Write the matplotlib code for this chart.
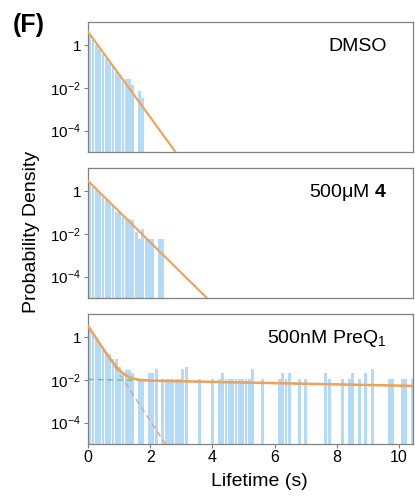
import numpy as np
import matplotlib
matplotlib.use("Agg")
import matplotlib.pyplot as plt

plt.rcParams['font.family'] = ['Liberation Sans', 'DejaVu Sans']
plt.rcParams['mathtext.fontset'] = 'custom'
plt.rcParams['mathtext.rm'] = 'Liberation Sans'
plt.rcParams['mathtext.bf'] = 'Liberation Sans:bold'
plt.rcParams['mathtext.it'] = 'Liberation Sans:italic'

# histogram bin width (s)
BIN = 0.107

# DMSO: probability density per bin, starting at t = 0
dmso_h = [2.6, 1.7, 1.0, 0.65, 0.4, 0.25, 0.15, 0.09, 0.055, 0.035,
          0.02, 0.025, 0.025, 0.013, 0, 0.0069, 0.0034]

# 500 uM compound 4
cpd4_h = [2.2, 1.6, 1.1, 0.8, 0.55, 0.4, 0.28, 0.2, 0.11, 0.1,
          0.06, 0.05, 0.05, 0.045, 0.012, 0.0058, 0.017, 0.0058, 0.0058, 0.0058,
          0, 0.0058, 0.0058]

# 500 nM PreQ1: fast part as density, long tail as event counts
preq_fast = [2.5, 1.6, 0.9, 0.45, 0.25, 0.19, 0.17, 0.09, 0.09, 0.04,
             0.02, 0.03, 0.03, 0.02]
preq_unit = 0.0105
preq_tail = [0, 1, 1, 0, 2, 2, 3, 0, 1, 1,
             1, 1, 1, 1, 3, 4, 0, 0, 0, 1,
             0, 0, 0, 1, 0, 1, 2, 1, 1, 1,
             1, 1, 1, 1, 1, 3, 0, 0, 1, 0,
             0, 0, 0, 1, 2, 1, 2, 0, 0, 1,
             0, 1, 0, 0, 0, 0, 0, 2, 1, 0,
             0, 0, 1, 0, 1, 2, 0, 1, 0, 2,
             0, 3, 0, 0, 0, 0, 1, 1, 0, 0,
             1, 1, 0, 1]
preq_h = preq_fast + [c * preq_unit for c in preq_tail]

# fitted exponentials: amplitude, rate (1/s)
dmso_fit = (4.2, 4.6)
cpd4_fit = (3.0, 3.3)
preq_fast_fit = (3.3, 5.1)
preq_slow_fit = (0.0105, 0.067)

labels = ["DMSO", "500\u03bcM $\\mathbf{4}$", "500nM PreQ$_1$"]

BAR_C = '#b3dbf7'
FIT_C = '#f2a056'
GRAY = '#808080'

fig = plt.figure(figsize=(4.15, 5.0), dpi=100)
left, width, height = 0.212, 0.783, 0.26
bottoms = [0.696, 0.404, 0.112]
axes = [fig.add_axes([left, b, width, height]) for b in bottoms]

t = np.linspace(0, 10.5, 600)
all_h = [dmso_h, cpd4_h, preq_h]

for i, ax in enumerate(axes):
    h = np.array(all_h[i])
    centers = (np.arange(len(h)) + 0.5) * BIN
    mask = h > 0
    ax.bar(centers[mask], h[mask], width=BIN * 0.85, color=BAR_C,
           edgecolor='none', zorder=1)
    if i == 0:
        a, k = dmso_fit
        ax.plot(t, a * np.exp(-k * t), color=FIT_C, lw=1.5, zorder=3)
    elif i == 1:
        a, k = cpd4_fit
        ax.plot(t, a * np.exp(-k * t), color=FIT_C, lw=1.5, zorder=3)
    else:
        fast = preq_fast_fit[0] * np.exp(-preq_fast_fit[1] * t)
        slow = preq_slow_fit[0] * np.exp(-preq_slow_fit[1] * t)
        ax.plot(t, fast, color='#dca08e', lw=1.0, ls=(0, (4, 3)), zorder=2)
        ax.plot(t, slow, color='#6cbf78', lw=1.0, ls=(0, (4, 3)), zorder=2)
        ax.plot(t, fast + slow, color=FIT_C, lw=1.8, zorder=3)

    ax.set_yscale('log')
    ax.set_ylim(1e-5, 12)
    ax.set_xlim(0, 10.45)
    ax.yaxis.set_minor_locator(matplotlib.ticker.NullLocator())
    ax.set_yticks([1, 1e-2, 1e-4])
    ax.set_yticklabels(['1', '10$^{-2}$', '10$^{-4}$'])
    for s in ax.spines.values():
        s.set_color(GRAY)
        s.set_linewidth(0.9)
    ax.tick_params(axis='y', length=3, width=0.8, color=GRAY,
                   labelsize=11, pad=2)
    if i < 2:
        ax.set_xticks([])
    else:
        ax.set_xticks([0, 2, 4, 6, 8, 10])
        ax.tick_params(axis='x', length=3, width=0.8, color=GRAY,
                       labelsize=11.5, pad=1)
    ax.text(0.92, 0.81, labels[i], transform=ax.transAxes, ha='right',
            va='center', fontsize=14)

fig.text(0.03, 0.95, "(F)", fontsize=18, fontweight='bold', va='center')
fig.text(0.075, 0.537, "Probability Density", rotation=90, fontsize=14,
         ha='center', va='center')
fig.text(0.625, 0.036, "Lifetime (s)", fontsize=14, ha='center', va='center')

fig.savefig("out.png", dpi=100)
